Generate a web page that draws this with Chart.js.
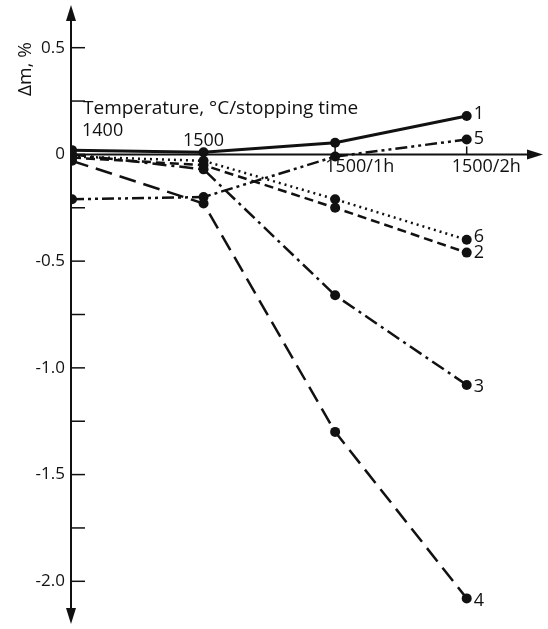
<!DOCTYPE html>
<html>
<head>
<meta charset="utf-8">
<script src="https://cdn.jsdelivr.net/npm/chart.js@4.4.0/dist/chart.umd.min.js"></script>
<style>
  html, body { margin: 0; padding: 0; background: #fff; }
  #wrap { width: 548px; height: 629px; }
</style>
</head>
<body>
<div id="wrap"><canvas id="myChart"></canvas></div>
<script>
const categories = ['1400', '1500', '1500/1h', '1500/2h'];
const curveNames = ['1', '2', '3', '4', '5', '6'];
const curve1 = [0.02, 0.01, 0.055, 0.18];
const curve2 = [-0.015, -0.05, -0.25, -0.46];
const curve3 = [0.0, -0.07, -0.66, -1.08];
const curve4 = [-0.03, -0.23, -1.30, -2.08];
const curve5 = [-0.21, -0.20, -0.01, 0.07];
const curve6 = [-0.01, -0.03, -0.21, -0.40];
const yTicks = [0.5, 0, -0.5, -1.0, -1.5, -2.0];
const yTickLabels = ['0.5', '0', '-0.5', '-1.0', '-1.5', '-2.0'];
const yMinorTicks = [0.25, -0.25, -0.75, -1.25, -1.75];

const FONT = '"Open Sans", sans-serif';
const INK = '#111';

const allCurves = [curve1, curve2, curve3, curve4, curve5, curve6];
const dashes = [
  [],
  [9, 5],
  [14, 5, 3, 5],
  [17, 8],
  [12, 4, 3, 4, 3, 4],
  [2, 4],
];
const widths = [3, 2.5, 2.5, 2.5, 2.5, 2.5];

const canvas = document.getElementById('myChart');

// axes, arrows, tick marks and text
const axisPlugin = {
  id: 'axisPlugin',
  afterDatasetsDraw(chart) {
    const { ctx, chartArea, scales } = chart;
    const x = scales.x;
    const y = scales.y;
    const x0 = x.getPixelForValue(0);
    const y0 = y.getPixelForValue(0);
    ctx.save();
    ctx.strokeStyle = INK;
    ctx.fillStyle = INK;
    ctx.lineWidth = 2;

    // vertical axis with arrows
    ctx.beginPath();
    ctx.moveTo(x0 - 1, chartArea.top + 12);
    ctx.lineTo(x0 - 1, chartArea.bottom - 10);
    ctx.stroke();
    ctx.beginPath();
    ctx.moveTo(x0 - 1, chartArea.top);
    ctx.lineTo(x0 - 6, chartArea.top + 16);
    ctx.lineTo(x0 + 4, chartArea.top + 16);
    ctx.closePath();
    ctx.fill();
    ctx.beginPath();
    ctx.moveTo(x0 - 1, chartArea.bottom);
    ctx.lineTo(x0 - 6, chartArea.bottom - 16);
    ctx.lineTo(x0 + 4, chartArea.bottom - 16);
    ctx.closePath();
    ctx.fill();

    // horizontal axis with arrow
    ctx.beginPath();
    ctx.moveTo(x0, y0);
    ctx.lineTo(chartArea.right - 12, y0);
    ctx.stroke();
    ctx.beginPath();
    ctx.moveTo(chartArea.right, y0);
    ctx.lineTo(chartArea.right - 16, y0 - 5);
    ctx.lineTo(chartArea.right - 16, y0 + 5);
    ctx.closePath();
    ctx.fill();

    // y ticks
    ctx.lineWidth = 1.5;
    yTicks.concat(yMinorTicks).forEach((v) => {
      const py = y.getPixelForValue(v);
      ctx.beginPath();
      ctx.moveTo(x0 - 1, py);
      ctx.lineTo(x0 + 13, py);
      ctx.stroke();
    });
    // small tick marks on x axis
    [2, 3].forEach((v) => {
      const px = x.getPixelForValue(v);
      ctx.beginPath();
      ctx.moveTo(px, y0);
      ctx.lineTo(px, y0 - 8);
      ctx.stroke();
    });

    ctx.font = '17px ' + FONT;
    ctx.textAlign = 'right';
    ctx.textBaseline = 'middle';
    yTicks.forEach((v, i) => {
      ctx.fillText(yTickLabels[i], x0 - 7, y.getPixelForValue(v));
    });

    // category labels: first two above the axis, others below
    ctx.font = '18px ' + FONT;
    ctx.textAlign = 'left';
    ctx.textBaseline = 'alphabetic';
    ctx.fillText(categories[0], x0 + 10, y0 - 18);
    ctx.textAlign = 'center';
    ctx.fillText(categories[1], x.getPixelForValue(1), y0 - 8);
    ctx.textAlign = 'left';
    ctx.textBaseline = 'top';
    ctx.fillText(categories[2], x.getPixelForValue(2) - 10, y0 + 3);
    ctx.fillText(categories[3], x.getPixelForValue(3) - 15, y0 + 3);

    ctx.textBaseline = 'alphabetic';
    ctx.font = '19px ' + FONT;
    ctx.fillText('Temperature, \u00B0C/stopping time', x0 + 11, y0 - 40);

    // y axis title, rotated
    ctx.save();
    ctx.translate(26, y.getPixelForValue(0.4));
    ctx.rotate(-Math.PI / 2);
    ctx.textAlign = 'center';
    ctx.textBaseline = 'middle';
    ctx.fillText('\u0394m, %', 0, 0);
    ctx.restore();

    // curve numbers at the line ends
    ctx.font = '18px ' + FONT;
    ctx.textAlign = 'left';
    ctx.textBaseline = 'middle';
    const nudge = [-2, 0, 2, 2, -1, -3];
    allCurves.forEach((c, i) => {
      const last = c.length - 1;
      ctx.fillText(curveNames[i], x.getPixelForValue(last) + 7, y.getPixelForValue(c[last]) + nudge[i]);
    });
    ctx.restore();
  },
};

new Chart(canvas, {
  type: 'line',
  data: {
    datasets: allCurves.map((c, i) => ({
      label: curveNames[i],
      data: c.map((v, k) => ({ x: k, y: v })),
      borderColor: INK,
      backgroundColor: INK,
      borderWidth: widths[i],
      borderDash: dashes[i],
      pointRadius: 5,
      pointBackgroundColor: INK,
      pointBorderWidth: 0,
      tension: 0,
      fill: false,
    })),
  },
  options: {
    responsive: true,
    maintainAspectRatio: false,
    animation: false,
    layout: {
      padding: { left: 72, right: 1, top: 5, bottom: 3 },
    },
    scales: {
      x: { type: 'linear', min: 0, max: 3.58, display: false },
      y: { type: 'linear', min: -2.2, max: 0.7, display: false },
    },
    plugins: {
      legend: { display: false },
      tooltip: { enabled: false },
    },
  },
  plugins: [axisPlugin],
});
</script>
</body>
</html>
